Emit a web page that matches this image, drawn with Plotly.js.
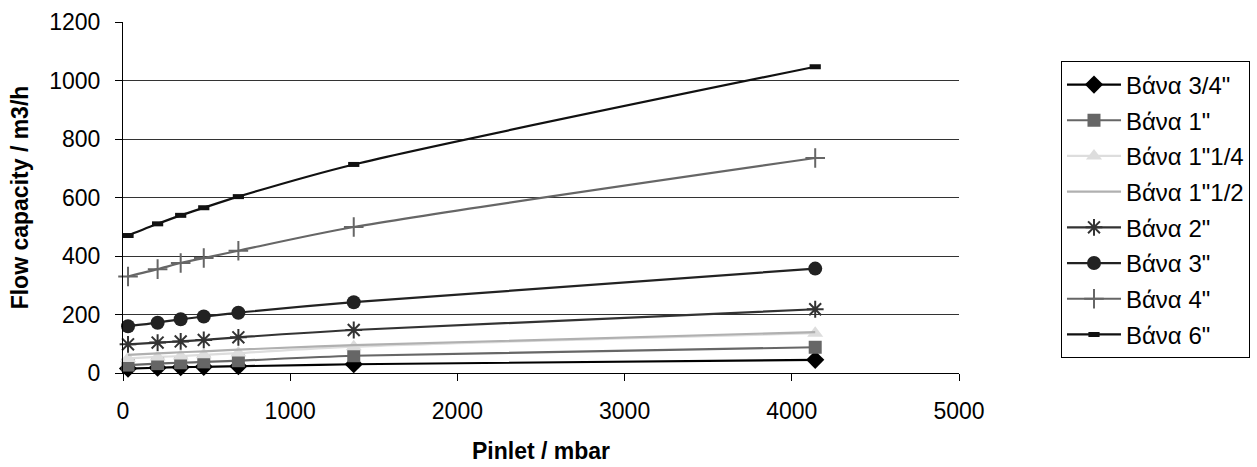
<!DOCTYPE html>
<html>
<head>
<meta charset="utf-8">
<script src="https://cdn.plot.ly/plotly-3.0.1.min.js"></script>
<style>html,body{margin:0;padding:0;background:#fff;}#chart{width:1257px;height:467px;}</style>
</head>
<body>
<div id="chart"></div>
<script>
const pressure = [30, 207, 345, 483, 690, 1380, 4140];

const valve34 = [15, 18, 20, 21, 23, 30, 45];
const valve1 = [27, 32, 35, 38, 42, 59, 88];
const valve114 = [50, 55, 58, 62, 68, 90, 136];
const valve112 = [62, 67, 71, 74, 80, 95, 140];
const valve2 = [98, 104, 108, 113, 122, 147, 218];
const valve3 = [160, 172, 184, 193, 206, 242, 357];
const valve4 = [330, 355, 376, 393, 418, 499, 735];
const valve6 = [470, 510, 539, 565, 603, 713, 1047];

const seriesNames = ['Βάνα 3/4"', 'Βάνα 1"', 'Βάνα 1"1/4', 'Βάνα 1"1/2', 'Βάνα 2"', 'Βάνα 3"', 'Βάνα 4"', 'Βάνα 6"'];
const seriesValues = [valve34, valve1, valve114, valve112, valve2, valve3, valve4, valve6];

const styles = [
  {color: '#000000', marker: {symbol: 'diamond', size: 14, color: '#000000'}},
  {color: '#666666', marker: {symbol: 'square', size: 13, color: '#666666'}},
  {color: '#dddddd', marker: {symbol: 'triangle-up', size: 14, color: '#dddddd'}},
  {color: '#b0b0b0', marker: null},
  {color: '#333333', marker: {symbol: 'asterisk-open', size: 14, color: '#333333', line: {color: '#333333', width: 2}}},
  {color: '#222222', marker: {symbol: 'circle', size: 14, color: '#222222'}},
  {color: '#666666', marker: {symbol: 'cross-thin-open', size: 14, color: '#666666', line: {color: '#666666', width: 2}}},
  {color: '#111111', marker: {symbol: 'line-ew-open', size: 8, color: '#111111', line: {color: '#111111', width: 5}}}
];

const traces = seriesNames.map((name, i) => {
  const s = styles[i];
  const t = {
    x: pressure,
    y: seriesValues[i],
    name: name,
    legendgroup: 'g' + i,
    type: 'scatter',
    mode: s.marker ? 'lines+markers' : 'lines',
    line: {color: s.color, width: 2.2, shape: 'spline', smoothing: 0.8},
    cliponaxis: false
  };
  if (s.marker) t.marker = s.marker;
  return t;
});

// invisible trace on second y axis to carry grid lines
traces.push({x: [0], y: [0], yaxis: 'y2', showlegend: false, hoverinfo: 'skip', mode: 'markers', marker: {opacity: 0}});

const fam = '"Liberation Sans", Arial, sans-serif';
const font = {family: fam, color: '#000000', size: 23};
const titleFont = {family: fam, color: '#000000', size: 23};
const legendFont = {family: fam, color: '#000000', size: 24};

const layout = {
  width: 1257,
  height: 467,
  margin: {l: 123, r: 298, t: 22, b: 94, autoexpand: false},
  paper_bgcolor: '#ffffff',
  plot_bgcolor: '#ffffff',
  font: font,
  showlegend: true,
  xaxis: {
    range: [0, 5000],
    tickvals: [0, 1000, 2000, 3000, 4000, 5000],
    ticktext: ['0', '1000', '2000', '3000', '4000', '5000'],
    showgrid: false,
    zeroline: false,
    showline: true,
    linecolor: '#000000',
    linewidth: 1,
    ticks: 'outside',
    ticklen: 7,
    tickcolor: '#000000',
    ticklabelstandoff: 10,
    tickfont: font,
    title: {text: '<b>Pinlet / mbar</b>', font: titleFont, standoff: 20}
  },
  yaxis: {
    range: [0, 1200],
    tickvals: [0, 200, 400, 600, 800, 1000, 1200],
    ticktext: ['0', '200', '400', '600', '800', '1000', '1200'],
    showgrid: false,
    zeroline: false,
    showline: true,
    linecolor: '#000000',
    linewidth: 1,
    ticks: 'outside',
    ticklen: 7,
    tickcolor: '#000000',
    ticklabelstandoff: 10,
    tickfont: font,
    title: {text: '<b>Flow capacity / m3/h</b>', font: titleFont, standoff: 14}
  },
  yaxis2: {
    overlaying: 'y',
    range: [0, 1200],
    tickvals: [200, 400, 600, 800, 1000],
    showticklabels: false,
    showgrid: true,
    gridcolor: '#333333',
    gridwidth: 1,
    zeroline: false,
    showline: false,
    layer: 'below traces'
  },
  legend: {
    x: 1.122,
    y: 0.8876,
    xanchor: 'left',
    yanchor: 'top',
    bordercolor: '#000000',
    borderwidth: 1,
    bgcolor: '#ffffff',
    font: legendFont,
    itemwidth: 54,
    tracegroupgap: 1.5,
    traceorder: 'grouped'
  }
};

Plotly.newPlot('chart', traces, layout, {staticPlot: true, displayModeBar: false});
</script>
</body>
</html>
